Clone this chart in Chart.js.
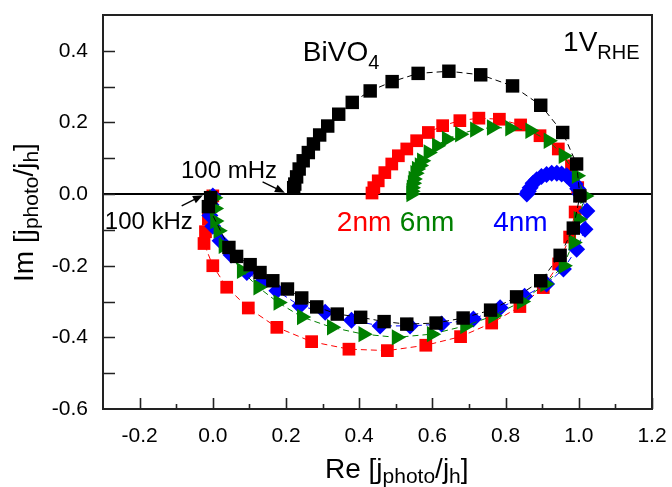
<!DOCTYPE html>
<html>
<head>
<meta charset="utf-8">
<script src="https://cdn.jsdelivr.net/npm/chart.js@4.4.1/dist/chart.umd.min.js"></script>
<style>
  html, body { margin: 0; padding: 0; background: #fff; }
  #wrap { width: 672px; height: 487px; position: relative; }
</style>
</head>
<body>
<div id="wrap"><canvas id="nyquist"></canvas></div>
<script>
// tick labels
const xTickValues = [-0.2, 0.0, 0.2, 0.4, 0.6, 0.8, 1.0, 1.2];
const yTickValues = [-0.6, -0.4, -0.2, 0.0, 0.2, 0.4];

// bare BiVO4 (black squares)
const bareRe = [-0.006, -0.012, 0.044, 0.065, 0.102, 0.129, 0.164, 0.204, 0.243, 0.284, 0.340, 0.404, 0.468, 0.530, 0.610, 0.684, 0.759, 0.830, 0.896, 0.949, 0.985, 1.003, 0.994, 0.956, 0.896, 0.819, 0.732, 0.645, 0.561, 0.490, 0.430, 0.381, 0.344, 0.314, 0.292, 0.275, 0.261, 0.247, 0.236, 0.229, 0.224, 0.221];
const bareIm = [-0.010, -0.035, -0.149, -0.174, -0.197, -0.219, -0.242, -0.265, -0.290, -0.315, -0.335, -0.344, -0.356, -0.363, -0.360, -0.346, -0.324, -0.287, -0.242, -0.171, -0.095, -0.005, 0.084, 0.172, 0.248, 0.302, 0.333, 0.343, 0.337, 0.314, 0.288, 0.256, 0.223, 0.190, 0.165, 0.140, 0.116, 0.093, 0.070, 0.048, 0.028, 0.018];

// 2nm (red squares)
const nm2Re = [0.000, -0.005, -0.012, -0.020, -0.024, 0.000, 0.038, 0.097, 0.175, 0.270, 0.372, 0.477, 0.582, 0.677, 0.762, 0.839, 0.903, 0.945, 0.975, 0.990, 0.997, 0.980, 0.944, 0.894, 0.841, 0.783, 0.727, 0.675, 0.628, 0.589, 0.557, 0.530, 0.507, 0.489, 0.470, 0.452, 0.440, 0.435];
const nm2Im = [-0.005, -0.035, -0.070, -0.105, -0.138, -0.200, -0.260, -0.318, -0.372, -0.412, -0.433, -0.437, -0.422, -0.398, -0.360, -0.314, -0.261, -0.195, -0.120, -0.050, 0.018, 0.079, 0.126, 0.163, 0.193, 0.209, 0.212, 0.205, 0.191, 0.172, 0.149, 0.126, 0.107, 0.084, 0.060, 0.037, 0.018, 0.003];

// 6nm (green triangles)
const nm6Re = [0.003, 0.005, 0.006, 0.015, 0.029, 0.079, 0.124, 0.179, 0.243, 0.325, 0.411, 0.502, 0.598, 0.689, 0.766, 0.844, 0.908, 0.958, 0.985, 0.999, 1.017, 0.994, 0.958, 0.917, 0.867, 0.812, 0.762, 0.716, 0.675, 0.639, 0.612, 0.589, 0.571, 0.565, 0.557, 0.553, 0.548, 0.546, 0.543, 0.542, 0.542];
const nm6Im = [-0.010, -0.040, -0.075, -0.102, -0.144, -0.214, -0.260, -0.303, -0.343, -0.372, -0.391, -0.400, -0.391, -0.368, -0.340, -0.300, -0.251, -0.200, -0.135, -0.070, -0.005, 0.051, 0.107, 0.149, 0.177, 0.184, 0.186, 0.180, 0.167, 0.154, 0.135, 0.116, 0.093, 0.080, 0.070, 0.058, 0.042, 0.030, 0.018, 0.008, 0.000];

// 4nm (blue diamonds)
const nm4Re = [0.000, -0.005, -0.008, 0.000, 0.020, 0.050, 0.093, 0.135, 0.175, 0.238, 0.307, 0.379, 0.457, 0.539, 0.625, 0.712, 0.785, 0.852, 0.912, 0.958, 0.994, 1.017, 1.022, 1.003, 0.997, 0.990, 0.980, 0.967, 0.953, 0.940, 0.926, 0.912, 0.898, 0.885, 0.875, 0.867, 0.862, 0.858];
const nm4Im = [-0.005, -0.030, -0.060, -0.090, -0.130, -0.170, -0.219, -0.245, -0.270, -0.312, -0.330, -0.352, -0.368, -0.368, -0.363, -0.349, -0.317, -0.285, -0.251, -0.209, -0.154, -0.098, -0.047, 0.000, 0.015, 0.028, 0.040, 0.051, 0.056, 0.058, 0.058, 0.055, 0.049, 0.040, 0.030, 0.018, 0.008, 0.000];

const FONT = "'Liberation Sans', Arial, sans-serif";

function points(re, im) {
  return re.map((v, i) => ({ x: v, y: im[i] }));
}

function series(re, im, color, style, radius, rotation) {
  return {
    data: points(re, im),
    showLine: true,
    borderColor: color,
    borderWidth: 1,
    borderDash: [6, 4],
    pointStyle: style,
    pointRadius: radius,
    pointRotation: rotation || 0,
    pointBackgroundColor: color,
    pointBorderColor: color,
    pointBorderWidth: 0,
  };
}

// draw text with subscripts, parts = [[text, isSub], ...]
function drawRich(ctx, parts, x, y, size, subSize, subDrop, color) {
  ctx.fillStyle = color;
  ctx.textBaseline = "alphabetic";
  ctx.textAlign = "left";
  let cx = x;
  parts.forEach(([text, sub]) => {
    ctx.font = (sub ? subSize : size) + "px " + FONT;
    ctx.fillText(text, cx, sub ? y + subDrop : y);
    cx += ctx.measureText(text).width;
  });
}

function arrow(ctx, x1, y1, x2, y2) {
  const ang = Math.atan2(y2 - y1, x2 - x1);
  ctx.strokeStyle = "#000";
  ctx.fillStyle = "#000";
  ctx.lineWidth = 1.3;
  ctx.beginPath();
  ctx.moveTo(x1, y1);
  ctx.lineTo(x2 - 6 * Math.cos(ang), y2 - 6 * Math.sin(ang));
  ctx.stroke();
  ctx.beginPath();
  ctx.moveTo(x2, y2);
  ctx.lineTo(x2 - 10 * Math.cos(ang) + 4 * Math.sin(ang), y2 - 10 * Math.sin(ang) - 4 * Math.cos(ang));
  ctx.lineTo(x2 - 10 * Math.cos(ang) - 4 * Math.sin(ang), y2 - 10 * Math.sin(ang) + 4 * Math.cos(ang));
  ctx.closePath();
  ctx.fill();
}

function noPad(s) {
  s.paddingTop = 0;
  s.paddingBottom = 0;
  s.paddingLeft = 0;
  s.paddingRight = 0;
}

const framePlugin = {
  id: "frame",
  beforeDatasetsDraw(chart) {
    const { ctx, chartArea: a, scales } = chart;
    const x = scales.x, y = scales.y;
    ctx.save();
    ctx.strokeStyle = "#000";
    ctx.lineWidth = 2;
    const y0 = y.getPixelForValue(0);
    ctx.beginPath();
    ctx.moveTo(a.left, y0);
    ctx.lineTo(a.right, y0);
    ctx.stroke();

    // inward ticks
    ctx.strokeStyle = "#222";
    ctx.lineWidth = 1.6;
    ctx.beginPath();
    for (let i = -2; i <= 12; i++) {
      const px = Math.round(x.getPixelForValue(i / 10)) + 0.5;
      const len = i % 2 === 0 ? 11 : 5;
      ctx.moveTo(px, a.bottom);
      ctx.lineTo(px, a.bottom - len);
    }
    for (let i = -5; i <= 4; i++) {
      const py = Math.round(y.getPixelForValue(i / 10)) + 0.5;
      ctx.moveTo(a.left, py);
      ctx.lineTo(a.left + 12, py);
    }
    ctx.stroke();

    ctx.lineWidth = 2;
    ctx.strokeRect(a.left, a.top, a.right - a.left, a.bottom - a.top);
    ctx.restore();
  },
  afterDatasetsDraw(chart) {
    const { ctx, scales } = chart;
    const x = scales.x, y = scales.y;
    const X = (v) => x.getPixelForValue(v);
    const Y = (v) => y.getPixelForValue(v);
    ctx.save();
    drawRich(ctx, [["BiVO", false], ["4", true]], X(0.246), Y(0.372), 28, 20, 8, "#000");
    drawRich(ctx, [["1V", false], ["RHE", true]], X(0.957), Y(0.400), 28, 20, 8, "#000");
    drawRich(ctx, [["100 mHz", false]], X(-0.087), Y(0.046), 24, 24, 0, "#000");
    drawRich(ctx, [["100 kHz", false]], X(-0.295), Y(-0.097), 24, 24, 0, "#000");
    drawRich(ctx, [["2nm", false]], X(0.339), Y(-0.102), 28, 28, 0, "#ff0000");
    drawRich(ctx, [["6nm", false]], X(0.511), Y(-0.102), 28, 28, 0, "#008000");
    drawRich(ctx, [["4nm", false]], X(0.766), Y(-0.102), 28, 28, 0, "#0000ff");
    arrow(ctx, X(0.136), Y(0.034), X(0.197), Y(0.004));
    arrow(ctx, X(-0.085), Y(-0.033), X(-0.027), Y(-0.003));
    ctx.restore();
  },
  afterDraw(chart) {
    const { ctx } = chart;
    ctx.save();
    drawRich(ctx, [["Re [j", false], ["photo", true], ["/j", false], ["h", true], ["]", false]], 325, 478, 28, 21, 5, "#000");
    ctx.translate(33, 282);
    ctx.rotate(-Math.PI / 2);
    drawRich(ctx, [["Im [j", false], ["photo", true], ["/j", false], ["h", true], ["]", false]], 0, 0, 28, 21, 5, "#000");
    ctx.restore();
  },
};

new Chart(document.getElementById("nyquist"), {
  type: "scatter",
  data: {
    datasets: [
      series(bareRe, bareIm, "#000000", "rect", 9.5),
      series(nm6Re, nm6Im, "#008000", "triangle", 9.5, 90),
      series(nm4Re, nm4Im, "#0000ff", "rectRot", 8.5),
      series(nm2Re, nm2Im, "#ff0000", "rect", 9),
    ],
  },
  options: {
    responsive: true,
    maintainAspectRatio: false,
    animation: false,
    layout: { padding: { top: 15, right: 20, left: 0, bottom: 0 } },
    plugins: { legend: { display: false }, tooltip: { enabled: false } },
    scales: {
      x: {
        type: "linear",
        min: -0.3,
        max: 1.2,
        afterBuildTicks: (s) => { s.ticks = xTickValues.map((v) => ({ value: v })); },
        afterFit: (s) => { s.height = 78; noPad(s); },
        grid: { display: false, drawTicks: false },
        border: { display: false },
        ticks: {
          color: "#000",
          font: { family: FONT, size: 21 },
          padding: 15,
          maxRotation: 0,
          callback: (v) => v.toFixed(1),
        },
      },
      y: {
        type: "linear",
        min: -0.6,
        max: 0.5,
        afterBuildTicks: (s) => { s.ticks = yTickValues.map((v) => ({ value: v })); },
        afterFit: (s) => { s.width = 103; noPad(s); },
        grid: { display: false, drawTicks: false },
        border: { display: false },
        ticks: {
          color: "#000",
          font: { family: FONT, size: 21 },
          padding: 15,
          callback: (v) => v.toFixed(1),
        },
      },
    },
  },
  plugins: [framePlugin],
});
</script>
</body>
</html>
